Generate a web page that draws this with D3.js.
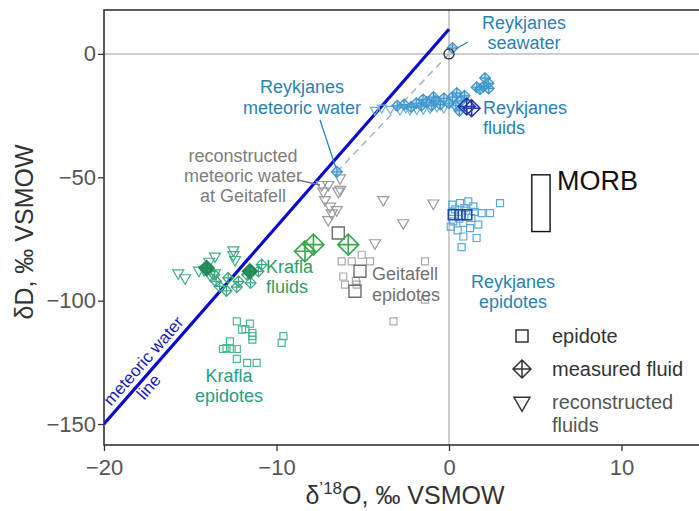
<!DOCTYPE html>
<html>
<head>
<meta charset="utf-8">
<script src="https://cdn.jsdelivr.net/npm/d3@7"></script>
<style>
  body { margin: 0; background: #fff; }
  svg { display: block; font-family: "Liberation Sans", Arial, sans-serif; }
</style>
</head>
<body>
<svg id="chart" width="699" height="511"></svg>
<script>
// [d18O, dD] pairs
const reykEpidote = [
  [0.19, -61.1], [0.64, -60.5], [1.12, -59.8], [1.41, -61.8], [1.89, -64.5], [2.38, -64.5], [2.96, -60.5],
  [0.25, -67.9], [0.83, -68.5], [1.22, -70.6], [1.7, -69.2], [0.83, -74], [1.6, -74.6], [0.73, -78.3],
  [0.35, -63], [0.9, -62.5], [1.3, -66.5], [0.1, -70], [0.5, -71.5], [1.5, -64], [0.6, -66.8], [1.0, -63.5], [0.2, -64]
];
const reykEpidoteMean = [[0.25, -65.2], [0.64, -65.2], [1.03, -65.2]];
const reykFluid = [
  [-3.0, -21], [-2.6, -20.5], [-2.2, -21.5], [-1.9, -20], [-1.6, -21], [-1.3, -19.5], [-1.0, -21], [-0.8, -19],
  [-0.5, -20.5], [-0.3, -18], [0, -20], [0.2, -17.5], [0.4, -21], [0.45, -15.9], [0.7, -19], [0.9, -17],
  [-1.5, -18.5], [-0.9, -17.5], [1.8, -14.3], [2.0, -13.2], [2.28, -11.9], [2.09, -9.8], [1.6, -13.5], [2.3, -14], [0.6, -23]
];
const reykFluidMean = [[1.03, -21.3], [1.31, -22]];
const reykRecon = [
  [-4.3, -22.7], [-3.9, -21.8], [-3.4, -22.3], [-2.84, -22.7], [-2.5, -21.8], [-2.26, -22.7],
  [-1.87, -22.5], [-1.49, -22.4], [-1.1, -22], [-0.7, -21.4], [-0.3, -21.8]
];
const reykSeawater = [[0.2, 2.4]];
const reykMeteoric = [[-6.5, -47.8]];
const vsmow = [[0, 0]];

const kraflaEpidote = [
  [-12.3, -108.4], [-11.54, -109.3], [-12.0, -111.7], [-11.8, -111.5], [-11.4, -113.1], [-11.4, -114.4],
  [-11.4, -115.8], [-12.7, -116.5], [-12.9, -119.2], [-13.1, -119.6], [-12.6, -119.6], [-12.3, -119.6],
  [-12.3, -123.6], [-11.7, -125.2], [-11.15, -125.2], [-9.6, -114.4], [-9.7, -117.1]
];
const kraflaFluid = [
  [-13.5, -92.2], [-12.8, -90.8], [-12.2, -92.2], [-11.7, -89.5], [-11.5, -92.8], [-11.05, -88.1],
  [-10.86, -85.4], [-13.3, -94.2], [-12.3, -94.5], [-12.9, -96], [-13.6, -89.5]
];
const kraflaFluidMean = [[-14.05, -86.8], [-11.54, -88.1]];
const kraflaFluidBig = [[-8.35, -80], [-7.86, -77.3], [-5.84, -77.3]];
const kraflaRecon = [
  [-15.7, -88.8], [-15.3, -90.8], [-14.5, -87.7], [-14.2, -87.4], [-14.05, -87.4], [-13.57, -82],
  [-13.57, -88.8], [-12.5, -81.4], [-12.4, -83.4], [-13.86, -89.5], [-13.9, -84.1], [-12.5, -79.5]
];

const geitEpidote = [
  [-5.06, -81.4], [-6.22, -84.1], [-5.64, -84.1], [-4.58, -84.1], [-6.13, -90.2], [-6.03, -93.5],
  [-5.35, -93.5], [-1.39, -84.1], [-1.39, -99.6], [-3.22, -108.4], [-5.4, -92]
];
const geitEpidoteMean = [[-6.42, -72.6], [-5.16, -88.1], [-5.45, -96.2]];
const geitRecon = [
  [-7.38, -53], [-7.0, -53], [-7.29, -55.7], [-6.42, -55.7], [-7.19, -59.1], [-6.9, -61.8], [-6.51, -63.2],
  [-6.8, -64.5], [-7.0, -67.2], [-3.81, -59.1], [-0.91, -60.5], [-2.65, -68.5], [-4.29, -76.6], [-6.32, -50.3], [-6.3, -55]
];

const morbO = [4.8, 5.86];
const morbD = [-72, -49];
const mwlO = [-20, 0];
const mwlD = [-150, 10];

const xTicks = [-20, -10, 0, 10];
const yTicks = [0, -50, -100, -150];

const svg = d3.select('#chart');
const x = d3.scaleLinear().domain([-20, 15]).range([104, 707.75]);
const y = d3.scaleLinear().domain([-158.5, 17.8]).range([445, 10]);

svg.append('clipPath').attr('id', 'plot').append('rect')
  .attr('x', 104).attr('y', 10).attr('width', 600).attr('height', 435);

// reference lines at 0
svg.append('line').attr('x1', x(0)).attr('x2', x(0)).attr('y1', 10).attr('y2', 445)
  .attr('stroke', '#bdbdbd').attr('stroke-width', 1.5);
svg.append('line').attr('x1', 104).attr('x2', 699).attr('y1', y(0)).attr('y2', y(0))
  .attr('stroke', '#bdbdbd').attr('stroke-width', 1.5);

// axes
const xAxis = svg.append('g').attr('transform', 'translate(0,445)')
  .call(d3.axisBottom(x).tickValues(xTicks).tickSize(6).tickSizeOuter(0));
const yAxis = svg.append('g').attr('transform', 'translate(104,0)')
  .call(d3.axisLeft(y).tickValues(yTicks).tickSize(6).tickSizeOuter(0));
[xAxis, yAxis].forEach(a => {
  a.select('.domain').remove();
  a.selectAll('line').attr('stroke', '#333').attr('stroke-width', 1.3);
  a.selectAll('text').attr('fill', '#555').style('font-size', '22px')
    .style('font-family', '"Liberation Sans", Arial, sans-serif');
});
xAxis.selectAll('text').attr('dy', '0.95em');
yAxis.selectAll('text').attr('x', -8);

svg.append('rect').attr('x', 104).attr('y', 10).attr('width', 700).attr('height', 435)
  .attr('fill', 'none').attr('stroke', '#333').attr('stroke-width', 1.6);

const g = svg.append('g').attr('clip-path', 'url(#plot)');

// shapes
const square = s => `M${-s/2},${-s/2}h${s}v${s}h${-s}Z`;
const tri = w => { const h = w * 0.87; return `M${-w/2},${-h/3}L${w/2},${-h/3}L0,${2*h/3}Z`; };
const crossDiamond = r => `M0,${-r}L${r},0L0,${r}L${-r},0ZM0,${-r}V${r}M${-r},0H${r}`;

function plot(data, path, color, opts = {}) {
  g.append('g').selectAll('path').data(data).enter().append('path')
    .attr('transform', d => `translate(${x(d[0])},${y(d[1])})`)
    .attr('d', path)
    .attr('fill', opts.fill || 'none')
    .attr('stroke', color)
    .attr('stroke-width', opts.sw || 1.2)
    .attr('opacity', opts.op || 1);
}

// MORB box
g.append('rect').attr('x', x(morbO[0])).attr('y', y(morbD[1]))
  .attr('width', x(morbO[1]) - x(morbO[0])).attr('height', y(morbD[0]) - y(morbD[1]))
  .attr('fill', 'none').attr('stroke', '#111').attr('stroke-width', 1.4);

// meteoric water line
g.append('line').attr('x1', x(mwlO[0])).attr('y1', y(mwlD[0])).attr('x2', x(mwlO[1])).attr('y2', y(mwlD[1]))
  .attr('stroke', '#0a0acc').attr('stroke-width', 3.2);

// mixing line seawater - meteoric
g.append('line').attr('x1', x(reykMeteoric[0][0])).attr('y1', y(reykMeteoric[0][1]))
  .attr('x2', x(vsmow[0][0])).attr('y2', y(vsmow[0][1]))
  .attr('stroke', '#9fb2d6').attr('stroke-width', 1.5).attr('stroke-dasharray', '7 5');

// Geitafell
plot(geitRecon, tri(11), '#9a9a9a');
plot(geitEpidote, square(7), '#a9a9a9');
plot(geitEpidoteMean, square(12), '#6e6e6e', { sw: 1.4 });

// Krafla
plot(kraflaEpidote, square(7), '#4fb593');
plot(kraflaRecon, tri(11), '#41ad8a');
plot(kraflaFluid, crossDiamond(5.5), '#3aaa82');
plot(kraflaFluidMean, crossDiamond(7), '#1f8a55', { sw: 2.2, fill: '#2f9a62' });
plot(kraflaFluidBig, crossDiamond(10.5), '#3aa84e', { sw: 1.6 });

// Reykjanes
plot(reykRecon, tri(9), '#6fb2da');
plot(reykFluid, crossDiamond(5.5), '#3f97cc', { fill: 'rgba(80,160,210,0.35)' });
plot(reykFluidMean, crossDiamond(8.5), '#2336a8', { sw: 1.6 });
plot(reykEpidote, square(7), '#5aaad8');
plot(reykEpidoteMean, square(10), '#1f44b0', { sw: 1.6 });
plot(reykMeteoric, crossDiamond(5.5), '#3f97cc', { fill: 'rgba(80,160,210,0.35)' });
plot(reykSeawater, crossDiamond(5.5), '#3f97cc', { fill: 'rgba(80,160,210,0.45)' });
g.selectAll('.vsmow').data(vsmow).enter().append('circle')
  .attr('cx', d => x(d[0])).attr('cy', d => y(d[1])).attr('r', 5)
  .attr('fill', 'none').attr('stroke', '#333').attr('stroke-width', 1.3);

// labels
function label(lines, px, py, color, size, anchor = 'start', lh = 21) {
  const t = svg.append('text').attr('x', px).attr('y', py).attr('fill', color)
    .attr('font-size', size).attr('text-anchor', anchor);
  lines.forEach((s, i) => t.append('tspan').attr('x', px).attr('dy', i ? lh : 0).text(s));
}
function leader(x1, y1, x2, y2, color) {
  svg.append('line').attr('x1', x1).attr('y1', y1).attr('x2', x2).attr('y2', y2)
    .attr('stroke', color).attr('stroke-width', 1.3);
}

const reykC = '#2a82b2';
label(['Reykjanes', 'seawater'], 524, 29, reykC, 18, 'middle', 20);
leader(468, 42, x(reykSeawater[0][0]) + 3, y(reykSeawater[0][1]) + 1, reykC);
label(['Reykjanes', 'meteoric water'], 302, 93, reykC, 18, 'middle');
leader(320, 120, x(reykMeteoric[0][0]) - 1, y(reykMeteoric[0][1]) - 4, reykC);
label(['Reykjanes', 'fluids'], 483, 114, reykC, 18, 'start', 20);
label(['Reykjanes', 'epidotes'], 513, 288, reykC, 18, 'middle', 20);
label(['reconstructed', 'meteoric water', 'at Geitafell'], 243, 162, '#7d7d7d', 18, 'middle', 20);
leader(298, 180, 320, 185, '#777');
label(['Krafla', 'fluids'], 266, 273, '#2f9e66', 18, 'start', 20);
label(['Geitafell', 'epidotes'], 372, 280, '#727272', 18, 'start');
label(['Krafla', 'epidotes'], 229, 382, '#2a9c80', 18, 'middle', 20);
svg.append('text').attr('x', 557).attr('y', 190).attr('font-size', 27).attr('fill', '#111').text('MORB');

// meteoric water line label
const ang = Math.atan2(y(mwlD[1]) - y(mwlD[0]), x(mwlO[1]) - x(mwlO[0])) * 180 / Math.PI;
const lc = [x(-17.2), y(8 * -17.2 + 10)];
const mt = svg.append('text').attr('transform', `translate(${lc[0]},${lc[1]}) rotate(${ang})`)
  .attr('fill', '#1a1ab0').attr('font-size', 17).attr('text-anchor', 'middle');
mt.append('tspan').attr('x', 0).attr('y', -6).text('meteoric water');
mt.append('tspan').attr('x', -16).attr('y', 15).text('line');

// axis titles
svg.append('text').attr('transform', 'translate(33,232) rotate(-90)').attr('text-anchor', 'middle')
  .attr('font-size', 25).attr('fill', '#333').text('δD, ‰ VSMOW');
const xt = svg.append('text').attr('x', 405).attr('y', 504).attr('text-anchor', 'middle')
  .attr('font-size', 25).attr('fill', '#333');
xt.append('tspan').text('δ');
xt.append('tspan').attr('font-size', 17).attr('dy', -10).text('\u201918');
xt.append('tspan').attr('dy', 10).text('O, ‰ VSMOW');

// legend
const leg = [
  { p: square(12), y: 336, t: ['epidote'], c: '#333' },
  { p: crossDiamond(9), y: 369, t: ['measured fluid'], c: '#333' },
  { p: tri(16), y: 402, t: ['reconstructed', 'fluids'], c: '#555' }
];
leg.forEach(l => {
  svg.append('path').attr('transform', `translate(522,${l.y})`).attr('d', l.p)
    .attr('fill', 'none').attr('stroke', '#333').attr('stroke-width', 1.5);
  label(l.t, 552, l.y + 7, l.c, 20, 'start', 23);
});
</script>
</body>
</html>
